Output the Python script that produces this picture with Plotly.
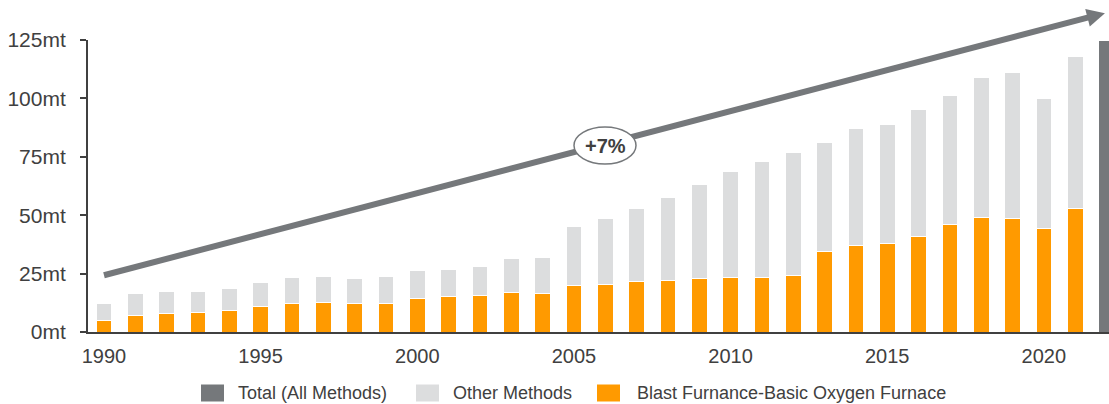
import plotly.graph_objects as go

# Steel production by method, million tonnes
years = list(range(1990, 2022))
bf_bof = [5.1, 7.2, 8.0, 8.5, 9.1, 11.0, 12.4, 12.8, 12.4, 12.4,
          14.5, 15.1, 15.8, 17.1, 16.4, 19.8, 20.5, 21.6, 22.0, 22.8,
          23.3, 23.3, 24.3, 34.6, 36.9, 38.0, 40.7, 46.1, 49.0, 48.5,
          44.4, 53.0]
other_methods = [7.3, 9.2, 9.2, 9.0, 9.5, 10.4, 10.8, 11.0, 10.5, 11.4,
                 11.8, 11.6, 12.4, 14.2, 15.6, 25.5, 28.3, 31.2, 35.4, 40.3,
                 45.2, 49.7, 52.6, 46.4, 50.1, 50.7, 54.6, 55.1, 60.1, 62.8,
                 55.6, 64.9]
total_x = [2022]
total_all = [124.7]

y_tickvals = [0, 25, 50, 75, 100, 125]
y_ticktext = ["0mt", "25mt", "50mt", "75mt", "100mt", "125mt"]
x_tickvals = [1990, 1995, 2000, 2005, 2010, 2015, 2020]
x_ticktext = ["1990", "1995", "2000", "2005", "2010", "2015", "2020"]

growth_label = "+7%"

ORANGE = "#FF9A00"
LIGHT = "#DCDDDE"
DARK = "#75787B"
TEXT = "#404040"
FONT = "Arial, Liberation Sans, sans-serif"

W, H = 1109, 404
M_L, M_R, M_T, M_B = 88, 0, 40, 72
X_RANGE = [1989.49, 2022.08]
Y_RANGE = [0, 125]
plot_w = W - M_L - M_R
plot_h = H - M_T - M_B


def px_of(xv, yv):
    """Data value -> pixel position in the page."""
    px = M_L + (xv - X_RANGE[0]) / (X_RANGE[1] - X_RANGE[0]) * plot_w
    py = M_T + (1 - (yv - Y_RANGE[0]) / (Y_RANGE[1] - Y_RANGE[0])) * plot_h
    return px, py


def paper_of(px, py):
    return (px - M_L) / plot_w, 1 - (py - M_T) / plot_h


fig = go.Figure()

bar_kw = dict(width=0.5, marker_line=dict(color="white", width=1),
              showlegend=False)

series = [
    ("Total (All Methods)", DARK, total_x, total_all),
    ("Blast Furnance-Basic Oxygen Furnace", ORANGE, years, bf_bof),
    ("Other Methods", LIGHT, years, other_methods),
]
for name, color, xs, ys in series:
    fig.add_trace(go.Bar(x=xs, y=ys, name=name, marker_color=color, **bar_kw))

# Growth arrow, from the 1990 level up past the last year
ax0, ay0 = px_of(1990, 24.3)
ax1, ay1 = px_of(2021.95, 136.5)
dx, dy = ax1 - ax0, ay1 - ay0
ln = (dx ** 2 + dy ** 2) ** 0.5
ux, uy = dx / ln, dy / ln
nx, ny = -uy, ux
head_len, head_half = 18, 9
bx, by = ax1 - head_len * ux, ay1 - head_len * uy

p0 = paper_of(ax0, ay0)
p_base = paper_of(bx + 2 * ux, by + 2 * uy)
fig.add_shape(type="line", xref="paper", yref="paper",
              x0=p0[0], y0=p0[1], x1=p_base[0], y1=p_base[1],
              line=dict(color=DARK, width=6), layer="above")

c1 = paper_of(bx + head_half * nx, by + head_half * ny)
c2 = paper_of(bx - head_half * nx, by - head_half * ny)
tip = paper_of(ax1, ay1)
fig.add_shape(type="path", xref="paper", yref="paper",
              path=f"M {c1[0]},{c1[1]} L {tip[0]},{tip[1]} L {c2[0]},{c2[1]} Z",
              fillcolor=DARK, line=dict(color=DARK, width=0), layer="above")

# Ellipse badge on the arrow
ecx, ecy = 605, 145.5
ew, eh = 62, 37
e0 = paper_of(ecx - ew / 2, ecy + eh / 2)
e1 = paper_of(ecx + ew / 2, ecy - eh / 2)
fig.add_shape(type="circle", xref="paper", yref="paper",
              x0=e0[0], y0=e0[1], x1=e1[0], y1=e1[1],
              fillcolor="white", line=dict(color=DARK, width=1.5), layer="above")
ec = paper_of(ecx, ecy)
fig.add_annotation(x=ec[0], y=ec[1], xref="paper", yref="paper",
                   text=f"<b>{growth_label}</b>", showarrow=False,
                   font=dict(family=FONT, size=20, color=TEXT),
                   xanchor="center", yanchor="middle")

# Legend row beneath the axis: swatch left edge and label start, in pixels
legend_items = [
    ("Total (All Methods)", DARK, 201, 236),
    ("Other Methods", LIGHT, 416, 451),
    ("Blast Furnance-Basic Oxygen Furnace", ORANGE, 597, 635),
]
leg_cy, sw_w, sw_h = 393, 23, 17
for label, color, sx, tx in legend_items:
    s0 = paper_of(sx, leg_cy + sw_h / 2)
    s1 = paper_of(sx + sw_w, leg_cy - sw_h / 2)
    fig.add_shape(type="rect", xref="paper", yref="paper",
                  x0=s0[0], y0=s0[1], x1=s1[0], y1=s1[1],
                  fillcolor=color, line=dict(width=0))
    t = paper_of(tx, leg_cy)
    fig.add_annotation(x=t[0], y=t[1], xref="paper", yref="paper",
                       text=label, showarrow=False, xanchor="left",
                       yanchor="middle",
                       font=dict(family=FONT, size=18, color=TEXT))

fig.update_layout(
    width=W, height=H, autosize=False,
    margin=dict(l=M_L, r=M_R, t=M_T, b=M_B, pad=0),
    paper_bgcolor="white", plot_bgcolor="white",
    barmode="stack",
    font=dict(family=FONT, color=TEXT),
    showlegend=False,
    xaxis=dict(range=X_RANGE, tickvals=x_tickvals, ticktext=x_ticktext,
               showgrid=False, zeroline=False, showline=True,
               linecolor=TEXT, linewidth=2, ticks="", ticklabelstandoff=5,
               tickfont=dict(family=FONT, size=20, color=TEXT)),
    yaxis=dict(range=Y_RANGE, tickvals=y_tickvals, ticktext=y_ticktext,
               showgrid=False, zeroline=False, showline=True,
               linecolor=TEXT, linewidth=2, ticks="outside", ticklen=6,
               tickwidth=2, tickcolor=TEXT, ticklabelstandoff=10,
               tickfont=dict(family=FONT, size=21, color=TEXT)),
)

fig.write_html("out.html")
